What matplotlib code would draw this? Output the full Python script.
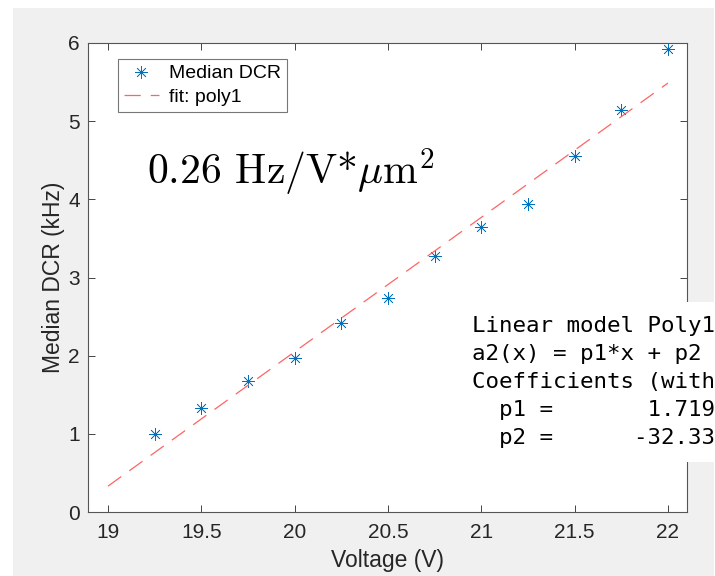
import matplotlib
matplotlib.use("Agg")
import matplotlib.pyplot as plt
from matplotlib.patches import Rectangle
import numpy as np

# ---- data ----
voltage = [19.25, 19.5, 19.75, 20.0, 20.25, 20.5, 20.75, 21.0, 21.25, 21.5, 21.75, 22.0]
median_dcr = [1.00, 1.33, 1.68, 1.97, 2.42, 2.74, 3.27, 3.64, 3.94, 4.55, 5.14, 5.92]
p1 = 1.719
p2 = -32.33
fit_x = [19.0, 22.0]
x_ticks = [19, 19.5, 20, 20.5, 21, 21.5, 22]
x_tick_labels = ["19", "19.5", "20", "20.5", "21", "21.5", "22"]
y_ticks = [0, 1, 2, 3, 4, 5, 6]
legend_labels = ["Median DCR", "fit: poly1"]
fit_text_lines = [
    "Linear model Poly1:",
    "a2(x) = p1*x + p2",
    "Coefficients (with 95% confidence bounds):",
    "  p1 =       1.719",
    "  p2 =      -32.33",
]

plt.rcParams["mathtext.fontset"] = "cm"
plt.rcParams["axes.unicode_minus"] = False

W, H = 715, 576
fig = plt.figure(figsize=(W / 100, H / 100), dpi=100, facecolor="white")

# grey figure panel
fig.add_artist(Rectangle((13 / W, 0), (714 - 13) / W, (H - 8) / H,
                         transform=fig.transFigure, facecolor="#f0f0f0",
                         edgecolor="none", zorder=-10))

ax = fig.add_axes([88 / W, (H - 512) / H, (687 - 88) / W, (512 - 43) / H])
ax.set_facecolor("white")

sans = "Liberation Sans"
dark = "#262626"

fx = np.array(fit_x)
fy = p1 * fx + p2
ax.plot(voltage, median_dcr, linestyle="none", marker=(8, 2, 0), markersize=9,
        markeredgewidth=0.5, color="#0072BD", label=legend_labels[0])
ax.plot(fx, fy, color="#ff6464", linewidth=0.9, dashes=(13, 8),
        label=legend_labels[1])

ax.set_xlim(18.893, 22.102)
ax.set_ylim(0, 6)
ax.set_xticks(x_ticks)
ax.set_xticklabels(x_tick_labels)
ax.set_yticks(y_ticks)
ax.tick_params(direction="in", length=5, width=0.6, color=dark,
               top=True, right=True, labelsize=15, labelcolor=dark)
ax.tick_params(axis="x", pad=8)
ax.tick_params(axis="y", pad=6)
for lab in ax.get_xticklabels() + ax.get_yticklabels():
    lab.set_family(sans)
for s in ax.spines.values():
    s.set_color("#555555")
    s.set_linewidth(0.8)

ax.set_xlabel("Voltage (V)", fontsize=16.5, family=sans, color=dark, labelpad=5)
ax.set_ylabel("Median DCR (kHz)", fontsize=16.5, family=sans, color=dark, labelpad=2)

leg = ax.legend(loc="upper left", bbox_to_anchor=(0.05, 0.966), borderaxespad=0,
                prop={"family": sans, "size": 14}, frameon=True, fancybox=False,
                edgecolor="#555555", handlelength=1.8, handletextpad=0.55,
                labelspacing=0.3, borderpad=0.3)
leg.get_frame().set_linewidth(0.8)

ax.text((147 - 88) / (687 - 88), (512 - 185) / (512 - 43),
        "0.26 Hz/V*$\\mu$m$^2$", transform=ax.transAxes, family="cmr10",
        fontsize=30, color="black", va="baseline", ha="left")

# white box with fit summary (overlapping the right edge)
fig.add_artist(Rectangle((455 / W, (H - 462) / H), 1 - 455 / W, 160 / H,
                         transform=fig.transFigure, facecolor="white",
                         edgecolor="none", zorder=5))
baselines = [331.7, 360, 388, 416.5, 444]
for line, yb in zip(fit_text_lines, baselines):
    fig.text(471.5 / W, (H - yb) / H, line, family="DejaVu Sans Mono",
             fontsize=16.2, color="black", va="baseline", ha="left", zorder=6)

fig.savefig("out.png", dpi=100, facecolor=fig.get_facecolor())
